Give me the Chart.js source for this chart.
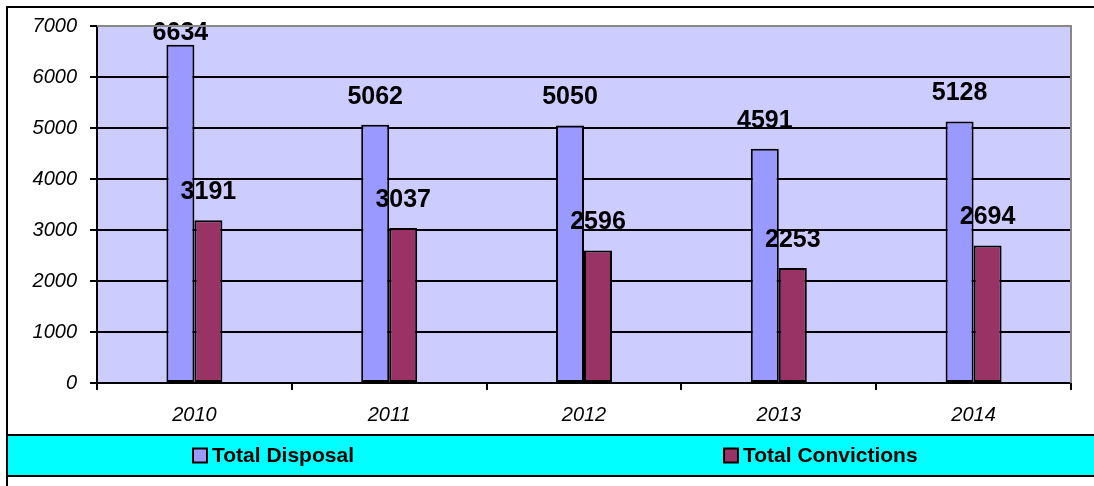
<!DOCTYPE html>
<html>
<head>
<meta charset="utf-8">
<script src="https://cdn.jsdelivr.net/npm/chart.js@4/dist/chart.umd.min.js"></script>
<style>
  html, body { margin: 0; padding: 0; background: #fff; }
  #wrap { width: 1094px; height: 486px; }
</style>
</head>
<body>
<div id="wrap"><canvas id="c" width="1094" height="486"></canvas></div>
<script>
const categories = ['2010', '2011', '2012', '2013', '2014'];
const disposalValues = [6634, 5062, 5050, 4591, 5128];
const convictionValues = [3191, 3037, 2596, 2253, 2694];
const seriesNames = ['Total Disposal', 'Total Convictions'];
const yMin = 0, yMax = 7000, yStep = 1000;

const FONT = '"Liberation Sans", Arial, sans-serif';

const decor = {
  id: 'decor',
  beforeDraw(chart) {
    const { ctx, chartArea: a } = chart;
    ctx.save();
    ctx.fillStyle = '#CCCCFF';
    ctx.fillRect(a.left, a.top, a.right - a.left, a.bottom - a.top);
    ctx.restore();
  },
  afterDatasetsDraw(chart) {
    const { ctx, chartArea: a } = chart;
    ctx.save();
    ctx.font = 'bold 25px ' + FONT;
    ctx.fillStyle = '#000';
    ctx.textAlign = 'center';
    ctx.textBaseline = 'middle';
    chart.data.datasets.forEach((ds, i) => {
      const meta = chart.getDatasetMeta(i);
      meta.data.forEach((bar, j) => {
        const y = Math.max(bar.y - 28, a.top + 7);
        ctx.fillText(String(ds.data[j]), bar.x, y);
      });
    });
    ctx.restore();
  },
  afterDraw(chart) {
    const { ctx, chartArea: a } = chart;
    ctx.save();
    ctx.strokeStyle = '#888888';
    ctx.lineWidth = 2;
    ctx.beginPath();
    ctx.moveTo(a.left, a.top);
    ctx.lineTo(a.right, a.top);
    ctx.lineTo(a.right, a.bottom);
    ctx.stroke();
    const bandTop = 435, bandBottom = 476;
    ctx.fillStyle = '#00FFFF';
    ctx.fillRect(7, bandTop, 1094 - 7, bandBottom - bandTop);
    ctx.strokeStyle = '#000';
    ctx.lineWidth = 2;
    ctx.beginPath();
    ctx.moveTo(7, bandTop); ctx.lineTo(1094, bandTop);
    ctx.moveTo(7, bandBottom); ctx.lineTo(1094, bandBottom);
    ctx.stroke();
    ctx.beginPath();
    ctx.moveTo(7, 486); ctx.lineTo(7, 7); ctx.lineTo(1094, 7);
    ctx.stroke();
    const items = [{ box: 193, text: 212 }, { box: 724, text: 743 }];
    const cy = (bandTop + bandBottom) / 2;
    ctx.font = 'bold 21px ' + FONT;
    ctx.textAlign = 'left';
    ctx.textBaseline = 'middle';
    chart.data.datasets.forEach((ds, i) => {
      const it = items[i];
      ctx.fillStyle = ds.backgroundColor;
      ctx.fillRect(it.box, cy - 7, 14, 14);
      ctx.lineWidth = 2;
      ctx.strokeStyle = '#000';
      ctx.strokeRect(it.box, cy - 7, 14, 14);
      ctx.fillStyle = '#000';
      ctx.fillText(ds.label, it.text, cy + 1);
    });
    ctx.restore();
  }
};

new Chart(document.getElementById('c'), {
  type: 'bar',
  data: {
    labels: categories,
    datasets: [
      {
        label: seriesNames[0],
        data: disposalValues,
        backgroundColor: '#9999FF',
        borderColor: '#000',
        borderWidth: 2,
        borderSkipped: false
      },
      {
        label: seriesNames[1],
        data: convictionValues,
        backgroundColor: '#993366',
        borderColor: '#000',
        borderWidth: 2,
        borderSkipped: false
      }
    ]
  },
  options: {
    responsive: false,
    animation: false,
    devicePixelRatio: 1,
    layout: { padding: { top: 26, right: 23, bottom: 51, left: 0 } },
    datasets: { bar: { categoryPercentage: 0.2875, barPercentage: 1 } },
    plugins: {
      legend: { display: false },
      tooltip: { enabled: false },
      title: { display: false }
    },
    scales: {
      x: {
        grid: {
          offset: true,
          drawOnChartArea: false,
          drawTicks: true,
          tickLength: 7,
          color: '#000',
          lineWidth: 2
        },
        border: { color: '#000', width: 2 },
        ticks: {
          color: '#000',
          padding: 13,
          font: { family: FONT, size: 20, style: 'italic' }
        },
        afterFit(scale) { scale.height = 52; }
      },
      y: {
        min: yMin,
        max: yMax,
        grid: {
          color: '#000',
          lineWidth: 2,
          tickLength: 7,
          drawTicks: true
        },
        border: { color: '#000', width: 2 },
        ticks: {
          stepSize: yStep,
          color: '#000',
          padding: 13,
          font: { family: FONT, size: 20, style: 'italic' },
          callback: (v) => String(v)
        },
        afterFit(scale) { scale.width = 97; }
      }
    }
  },
  plugins: [decor]
});
</script>
</body>
</html>
